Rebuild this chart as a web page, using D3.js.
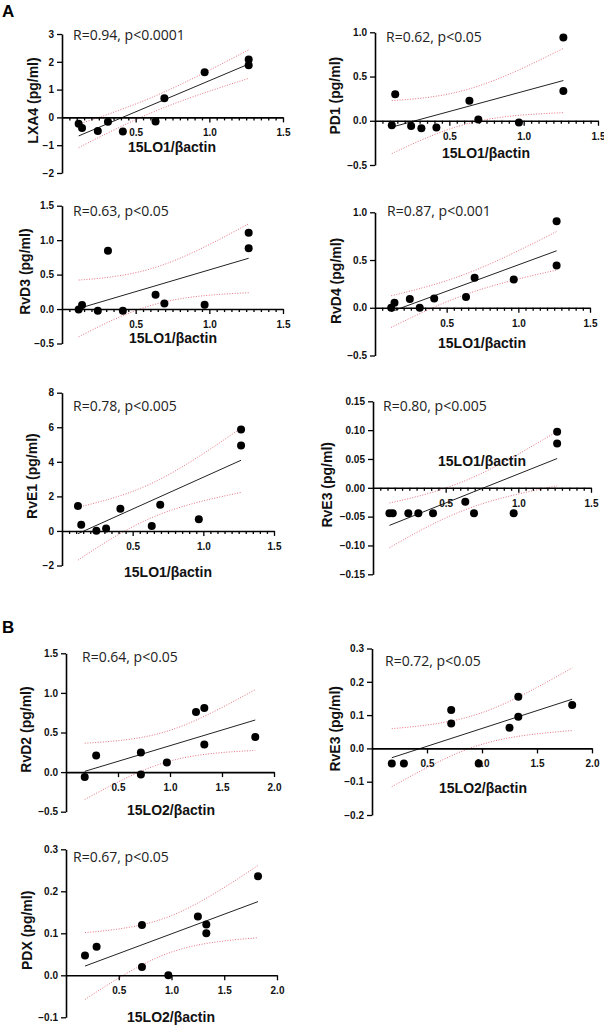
<!DOCTYPE html>
<html>
<head>
<meta charset="utf-8">
<script src="https://cdn.jsdelivr.net/npm/d3@7"></script>
<style>
  html, body { margin: 0; padding: 0; background: #fff; }
  svg { display: block; }
</style>
</head>
<body>
<div id="chart"></div>
<script>
// ---------- DATA ----------
// 15LO1/βactin values (panel A, shared by every panel in A)
const lo1 = [0.113, 0.136, 0.243, 0.312, 0.413, 0.635, 0.695, 0.968, 1.267, 1.267];
const lxa4 = [-0.23, -0.38, -0.49, -0.16, -0.51, -0.15, 0.69, 1.62, 2.08, 1.88];
const pd1 = [-0.05, 0.30, -0.06, -0.086, -0.075, 0.227, 0.015, -0.02, 0.94, 0.336];
const rvd3 = [-0.005, 0.058, -0.025, 0.846, -0.025, 0.208, 0.082, 0.063, 1.108, 0.881];
const rvd4 = [0.0, 0.052, 0.091, 0.0, 0.098, 0.112, 0.315, 0.297, 0.905, 0.444];
const rve1 = [1.44, 0.36, 0.01, 0.14, 1.29, 0.28, 1.52, 0.68, 5.87, 4.94];
const rve3a = [-0.044, -0.044, -0.044, -0.044, -0.044, -0.024, -0.044, -0.044, 0.097, 0.077];

// 15LO2/βactin values (panel B)
const lo2 = [0.18, 0.29, 0.72, 0.72, 0.97, 1.25, 1.33, 1.33, 1.82];
const rvd2 = [-0.063, 0.21, 0.248, -0.03, 0.122, 0.759, 0.81, 0.348, 0.444];
const rve3b = [-0.045, -0.045, 0.115, 0.075, -0.045, 0.062, 0.155, 0.095, 0.13];
const pdx = [0.047, 0.068, 0.12, 0.02, 0.0, 0.14, 0.121, 0.10, 0.236];

// annotations and labels
const annotations = ["R=0.94, p<0.0001", "R=0.62, p<0.05", "R=0.63, p<0.05", "R=0.87, p<0.001",
                     "R=0.78, p<0.005", "R=0.80, p<0.005", "R=0.64, p<0.05", "R=0.72, p<0.05", "R=0.67, p<0.05"];
const yTitles = ["LXA4 (pg/ml)", "PD1 (pg/ml)", "RvD3 (pg/ml)", "RvD4 (pg/ml)", "RvE1 (pg/ml)",
                 "RvE3 (pg/ml)", "RvD2 (pg/ml)", "RvE3 (pg/ml)", "PDX (pg/ml)"];
const xTitles = ["15LO1/βactin", "15LO2/βactin"];

// tick values
const yTicksLXA4 = [-2, -1, 0, 1, 2, 3];
const yTicksHalf = [-0.5, 0.0, 0.5, 1.0];
const yTicksRvD3 = [-0.5, 0.0, 0.5, 1.0, 1.5];
const yTicksRvE1 = [-2, 0, 2, 4, 6, 8];
const yTicksRvE3a = [-0.15, -0.10, -0.05, 0.00, 0.05, 0.10, 0.15];
const yTicksRvE3b = [-0.2, -0.1, 0.0, 0.1, 0.2, 0.3];
const yTicksPDX = [-0.1, 0.0, 0.1, 0.2, 0.3];
const xTicksLO1 = [0.5, 1.0, 1.5];
const xTicksLO2 = [0.5, 1.0, 1.5, 2.0];

// two-sided 95% t values by degrees of freedom
const tTable = {6: 2.447, 7: 2.365, 8: 2.306};

// ---------- LAYOUT ----------
const W = 604, H = 1025;
const svg = d3.select("#chart").append("svg").attr("width", W).attr("height", H)
  .style("font-family", "'Liberation Sans', Arial, sans-serif");
svg.append("rect").attr("width", W).attr("height", H).attr("fill", "#fff");

const panels = [
  {xs: lo1, ys: lxa4, xd: [0, 1.5], xr: [62, 283], yd: [-2, 3], yr: [173, 34], yt: yTicksLXA4, yf: d3.format("d"),
   xt: xTicksLO1, minor: true, xlab: 0, xl: [172, 152], yl: 33, an: [73, 40], id: 0},
  {xs: lo1, ys: pd1, xd: [0, 1.5], xr: [375, 598], yd: [-0.5, 1.0], yr: [165, 32.3], yt: yTicksHalf, yf: d3.format(".1f"),
   xt: xTicksLO1, minor: true, xlab: 0, xl: [486, 158], yl: 335, an: [386, 42], id: 1},
  {xs: lo1, ys: rvd3, xd: [0, 1.5], xr: [62, 283], yd: [-0.5, 1.5], yr: [343.5, 205.7], yt: yTicksRvD3, yf: d3.format(".1f"),
   xt: xTicksLO1, minor: true, xlab: 0, xl: [173, 343], yl: 25, an: [73, 216], id: 2},
  {xs: lo1, ys: rvd4, xd: [0, 1.5], xr: [375, 590], yd: [-0.5, 1.0], yr: [355.5, 212.3], yt: yTicksHalf, yf: d3.format(".1f"),
   xt: xTicksLO1, minor: true, xlab: 0, xl: [482, 348], yl: 336, an: [387, 216], id: 3},
  {xs: lo1, ys: rve1, xd: [0, 1.5], xr: [62, 274], yd: [-2, 8], yr: [565.5, 392.7], yt: yTicksRvE1, yf: d3.format("d"),
   xt: xTicksLO1, minor: true, xlab: 0, xl: [168, 577], yl: 32, an: [73, 411], id: 4},
  {xs: lo1, ys: rve3a, xd: [0, 1.5], xr: [373, 591], yd: [-0.15, 0.15], yr: [574.3, 401.3], yt: yTicksRvE3a, yf: d3.format(".2f"),
   xt: xTicksLO1, minor: true, xlab: 0, xl: [482, 466], yl: 327, an: [383, 411], id: 5},
  {xs: lo2, ys: rvd2, xd: [0, 2.0], xr: [66, 274], yd: [-0.5, 1.5], yr: [811.7, 653.3], yt: yTicksRvD3, yf: d3.format(".1f"),
   xt: xTicksLO2, minor: false, xlab: 1, xl: [171, 815], yl: 26, an: [82, 662], id: 6},
  {xs: lo2, ys: rve3b, xd: [0, 2.0], xr: [372, 592], yd: [-0.2, 0.3], yr: [815, 648.5], yt: yTicksRvE3b, yf: d3.format(".1f"),
   xt: xTicksLO2, minor: false, xlab: 1, xl: [483, 793], yl: 335, an: [385, 666], id: 7},
  {xs: lo2, ys: pdx, xd: [0, 2.0], xr: [66, 277], yd: [-0.1, 0.3], yr: [1017.3, 849.3], yt: yTicksPDX, yf: d3.format(".1f"),
   xt: xTicksLO2, minor: false, xlab: 1, xl: [171, 1022], yl: 27, an: [73, 862], id: 8}
];

// Panel letters
svg.append("text").attr("x", 2).attr("y", 17).text("A")
  .attr("font-weight", "bold").attr("font-size", 17).attr("fill", "#000");
svg.append("text").attr("x", 2).attr("y", 633).text("B")
  .attr("font-weight", "bold").attr("font-size", 17).attr("fill", "#000");

function regression(xs, ys) {
  const n = xs.length;
  const mx = d3.mean(xs), my = d3.mean(ys);
  let sxx = 0, sxy = 0;
  for (let i = 0; i < n; i++) { sxx += (xs[i] - mx) ** 2; sxy += (xs[i] - mx) * (ys[i] - my); }
  const b = sxy / sxx, a = my - b * mx;
  let ssr = 0;
  for (let i = 0; i < n; i++) ssr += (ys[i] - (a + b * xs[i])) ** 2;
  const s = Math.sqrt(ssr / (n - 2));
  const t = tTable[n - 2];
  return {a, b, mx, sxx, s, t, n};
}

function drawPanel(p) {
  const x = d3.scaleLinear().domain(p.xd).range(p.xr);
  const y = d3.scaleLinear().domain(p.yd).range(p.yr);
  const g = svg.append("g");

  // regression + confidence band
  const r = regression(p.xs, p.ys);
  const xmin = d3.min(p.xs), xmax = d3.max(p.xs);
  const samples = d3.range(0, 61).map(i => xmin + (xmax - xmin) * i / 60);
  const half = xv => r.t * r.s * Math.sqrt(1 / r.n + (xv - r.mx) ** 2 / r.sxx);
  const fit = xv => r.a + r.b * xv;
  const bandLine = d3.line().x(d => x(d[0])).y(d => y(d[1]));
  g.append("path").datum(samples.map(v => [v, fit(v) + half(v)])).attr("d", bandLine)
    .attr("fill", "none").attr("stroke", "#e8707e").attr("stroke-width", 1).attr("stroke-dasharray", "1,1.6");
  g.append("path").datum(samples.map(v => [v, fit(v) - half(v)])).attr("d", bandLine)
    .attr("fill", "none").attr("stroke", "#e8707e").attr("stroke-width", 1).attr("stroke-dasharray", "1,1.6");
  g.append("path").datum([[xmin, fit(xmin)], [xmax, fit(xmax)]]).attr("d", bandLine)
    .attr("fill", "none").attr("stroke", "#222").attr("stroke-width", 1);

  // y axis
  const yAx = g.append("g").attr("transform", `translate(${x(0)},0)`)
    .call(d3.axisLeft(y).tickValues(p.yt).tickFormat(p.yf).tickSize(5).tickSizeOuter(0).tickPadding(3));
  // x axis (at y = 0)
  const xAx = g.append("g").attr("transform", `translate(0,${y(0)})`)
    .call(d3.axisBottom(x).tickValues(p.xt).tickFormat(d3.format(".1f")).tickSize(5).tickSizeOuter(0).tickPadding(7));
  if (p.minor) {
    const minorVals = d3.range(1, 30).map(i => i * 0.05).filter(v => Math.abs(v * 2 - Math.round(v * 2)) > 1e-6);
    g.append("g").attr("transform", `translate(0,${y(0)})`)
      .call(d3.axisBottom(x).tickValues(minorVals).tickFormat("").tickSize(3).tickSizeOuter(0))
      .call(s => s.select(".domain").remove());
  }
  g.selectAll(".domain").attr("stroke", "#000").attr("stroke-width", 1.6);
  g.selectAll(".tick line").attr("stroke", "#000").attr("stroke-width", 1.3);
  g.selectAll(".tick text").attr("font-family", "'Liberation Sans', Arial, sans-serif")
    .attr("font-size", 10).attr("font-weight", "bold").attr("fill", "#111");
  yAx.selectAll(".tick text").attr("x", -8);

  // points
  g.append("g").selectAll("circle").data(p.xs.map((v, i) => [v, p.ys[i]])).join("circle")
    .attr("cx", d => x(d[0])).attr("cy", d => y(d[1])).attr("r", 4).attr("fill", "#000");

  // titles
  g.append("text").attr("x", p.xl[0]).attr("y", p.xl[1]).attr("text-anchor", "middle")
    .attr("font-size", 14).attr("font-weight", "bold").attr("fill", "#111").text(xTitles[p.xlab]);
  const ymid = (p.yr[0] + p.yr[1]) / 2 - 3;
  g.append("text").attr("transform", `translate(${p.yl},${ymid}) rotate(-90)`)
    .attr("text-anchor", "middle").attr("dominant-baseline", "central")
    .attr("font-size", 14).attr("font-weight", "bold").attr("fill", "#111").text(yTitles[p.id]);
  g.append("text").attr("x", p.an[0]).attr("y", p.an[1])
    .attr("font-family", "'Open Sans', sans-serif").attr("font-size", 14).attr("fill", "#222")
    .text(annotations[p.id]);
}

panels.forEach(drawPanel);
</script>
</body>
</html>
